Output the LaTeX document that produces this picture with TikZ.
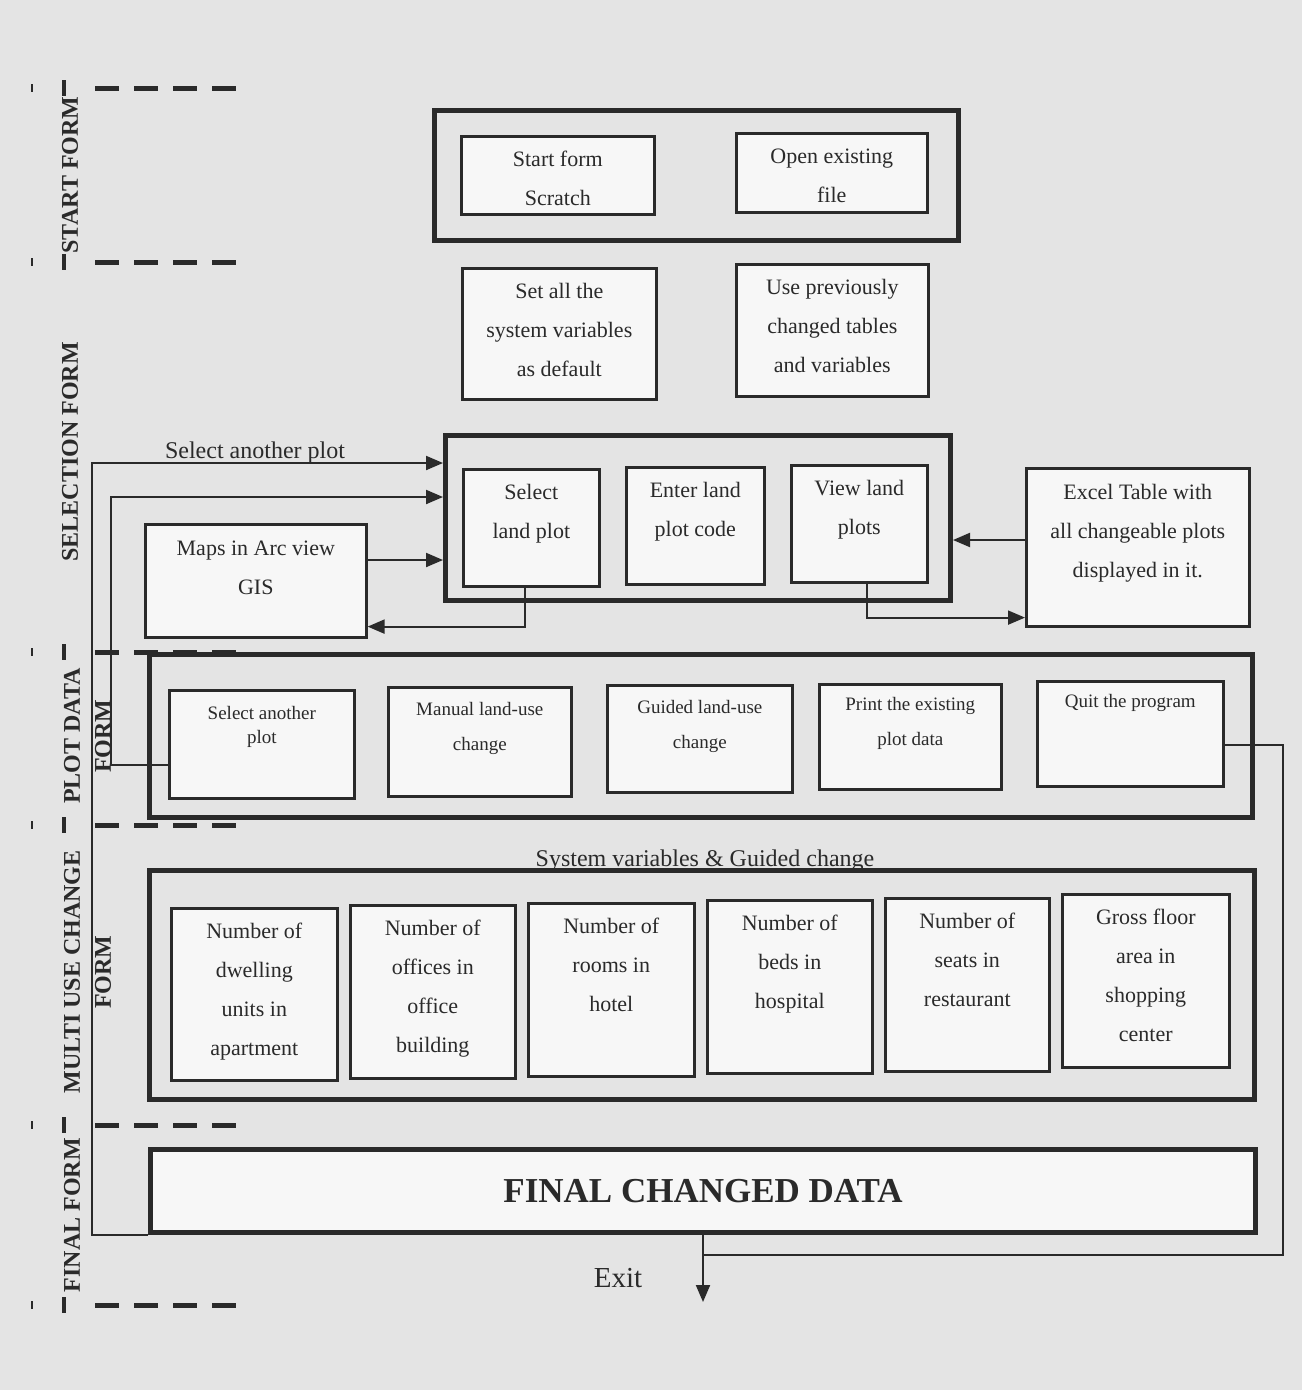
\documentclass[tikz,border=0pt]{standalone}
\usepackage{fontspec}
\setmainfont{Liberation Serif}
\usetikzlibrary{arrows.meta,calc}

\definecolor{ink}{HTML}{2A2A2A}
\definecolor{pagebg}{HTML}{E4E4E4}
\definecolor{paper}{HTML}{F7F7F7}

% multi-line texts are anchored at the baseline of their last line
\tikzset{
  box/.style={draw=ink, line width=2.6pt, fill=paper, anchor=north west, inner sep=0pt},
  frame/.style={draw=ink, line width=5pt, anchor=north west, inner sep=0pt},
  txt/.style={align=center, font=\fontsize{22}{39}\selectfont, text=ink, anchor=base, inner sep=0pt},
  smalltxt/.style={txt, font=\fontsize{19}{35}\selectfont},
  conn/.style={draw=ink, line width=2pt, -{Triangle[length=17pt,width=14pt]}},
  link/.style={draw=ink, line width=2pt},
  sepline/.style={draw=ink, line width=5pt, dash pattern=on 24pt off 15pt},
  sidelabel/.style={rotate=90, font=\bfseries\fontsize{24}{24}\selectfont, text=ink, inner sep=0pt},
}

\begin{document}
\begin{tikzpicture}[x=1pt, y=-1pt]
  % page
  \fill[pagebg] (0,0) rectangle (1302,1390);
  \useasboundingbox (0,0) rectangle (1302,1390);

  % ---------- section separators on the left ----------
  \foreach \yy in {88,262,652,825,1125,1305} {
    \draw[sepline] (95,\yy) -- (242,\yy);
    \draw[ink, line width=4pt] (64,\yy-8) -- (64,\yy+8);
    \draw[ink, line width=1.5pt] (32,\yy-4) -- (32,\yy+4);
  }

  % ---------- section names ----------
  \node[sidelabel] (lstart) at (70,175) {START FORM};
  \node[sidelabel] (lsel) at (70,452) {SELECTION FORM};
  \node[sidelabel] (lplot) at (72,736) {PLOT DATA};
  \node[sidelabel] (lplot2) at (103,736) {FORM};
  \node[sidelabel] (lmulti) at (72,972) {MULTI USE CHANGE};
  \node[sidelabel] (lmulti2) at (103,972) {FORM};
  \node[sidelabel] (lfinal) at (72,1215) {FINAL FORM};

  % ---------- start form ----------
  \node[frame, minimum width=524pt, minimum height=130pt] (startframe) at (432,108) {};
  \node[box, minimum width=193pt, minimum height=78pt] (scratch) at (460,135) {};
  \node[txt] (scratch-t) at ([yshift=-70pt]scratch.north) {Start form\\Scratch};
  \node[box, minimum width=191pt, minimum height=79pt] (openfile) at (735,132) {};
  \node[txt] (openfile-t) at ([yshift=-70pt]openfile.north) {Open existing\\file};

  \node[box, minimum width=194pt, minimum height=131pt] (defaults) at (461,267) {};
  \node[txt] (defaults-t) at ([yshift=-109pt]defaults.north) {Set all the\\system variables\\as default};
  \node[box, minimum width=192pt, minimum height=132pt] (previous) at (735,263) {};
  \node[txt] (previous-t) at ([yshift=-109pt]previous.north) {Use previously\\changed tables\\and variables};

  % ---------- selection form ----------
  \node[frame, minimum width=505pt, minimum height=165pt] (selframe) at (443,433) {};
  \node[box, minimum width=136pt, minimum height=117pt] (selplot) at (462,468) {};
  \node[txt] (selplot-t) at ([yshift=-70pt]selplot.north) {Select\\land plot};
  \node[box, minimum width=138pt, minimum height=117pt] (enterplot) at (625,466) {};
  \node[txt] (enterplot-t) at ([yshift=-70pt]enterplot.north) {Enter land\\plot code};
  \node[box, minimum width=136pt, minimum height=117pt] (viewplot) at (790,464) {};
  \node[txt] (viewplot-t) at ([yshift=-70pt]viewplot.north) {View land\\plots};

  \node[box, minimum width=221pt, minimum height=113pt] (maps) at (144,523) {};
  \node[txt] (maps-t) at ([yshift=-71pt]maps.north) {Maps in Arc view\\GIS};
  \node[box, minimum width=223pt, minimum height=158pt] (excel) at (1025,467) {};
  \node[txt] (excel-t) at ([yshift=-110pt]excel.north) {Excel Table with\\all changeable plots\\displayed in it.};

  \node[txt, font=\fontsize{24}{28}\selectfont] (selanother) at (255,458) {Select another plot};

  % ---------- plot data form ----------
  \node[frame, minimum width=1103pt, minimum height=163pt] (plotframe) at (147,652) {};
  \node[box, minimum width=185pt, minimum height=108pt] (pdsel) at (168,689) {};
  \node[smalltxt, font=\fontsize{19}{24}\selectfont] (pdsel-t) at ([yshift=-54pt]pdsel.north) {Select another\\plot};
  \node[box, minimum width=183pt, minimum height=109pt] (pdman) at (387,686) {};
  \node[smalltxt] (pdman-t) at ([yshift=-64pt]pdman.north) {Manual land-use\\change};
  \node[box, minimum width=185pt, minimum height=107pt] (pdgui) at (606,684) {};
  \node[smalltxt] (pdgui-t) at ([yshift=-64pt]pdgui.north) {Guided land-use\\change};
  \node[box, minimum width=182pt, minimum height=105pt] (pdprn) at (818,683) {};
  \node[smalltxt] (pdprn-t) at ([yshift=-62pt]pdprn.north) {Print the existing\\plot data};
  \node[box, minimum width=186pt, minimum height=105pt] (pdquit) at (1036,680) {};
  \node[smalltxt] (pdquit-t) at ([yshift=-27pt]pdquit.north) {Quit the program};

  % ---------- multi use change form ----------
  \node[txt, font=\fontsize{24}{28}\selectfont] (syslabel) at (705,866) {System variables \& Guided change};
  \node[frame, minimum width=1105pt, minimum height=229pt] (multiframe) at (147,868) {};
  \node[box, minimum width=166pt, minimum height=172pt] (mdwell) at (170,907) {};
  \node[txt] (mdwell-t) at ([yshift=-148pt]mdwell.north) {Number of\\dwelling\\units in\\apartment};
  \node[box, minimum width=165pt, minimum height=173pt] (moffice) at (349,904) {};
  \node[txt] (moffice-t) at ([yshift=-148pt]moffice.north) {Number of\\offices in\\office\\building};
  \node[box, minimum width=166pt, minimum height=173pt] (mhotel) at (527,902) {};
  \node[txt] (mhotel-t) at ([yshift=-109pt]mhotel.north) {Number of\\rooms in\\hotel};
  \node[box, minimum width=165pt, minimum height=173pt] (mhosp) at (706,899) {};
  \node[txt] (mhosp-t) at ([yshift=-109pt]mhosp.north) {Number of\\beds in\\hospital};
  \node[box, minimum width=164pt, minimum height=173pt] (mrest) at (884,897) {};
  \node[txt] (mrest-t) at ([yshift=-109pt]mrest.north) {Number of\\seats in\\restaurant};
  \node[box, minimum width=167pt, minimum height=173pt] (mshop) at (1061,893) {};
  \node[txt] (mshop-t) at ([yshift=-148pt]mshop.north) {Gross floor\\area in\\shopping\\center};

  % ---------- final form ----------
  \node[box, line width=5pt, minimum width=1105pt, minimum height=83pt,
        font=\bfseries\fontsize{35}{40}\selectfont, text=ink] (finalbox) at (148,1147) {FINAL CHANGED DATA};

  % ---------- connectors ----------
  % loop back from the final data to plot selection
  \draw[conn] (finalbox.south west) -- ++(-56,0) |- ([yshift=-30pt]selframe.north west);
  % "Select another plot" button back to plot selection
  \draw[conn] ([yshift=-76pt]pdsel.north west) -- ++(-57,0) |- ([yshift=-64pt]selframe.north west);
  % GIS maps feed the selection
  \draw[conn] ([yshift=-37pt]maps.north east) -- ([yshift=-127pt]selframe.north west);
  \draw[conn] ([xshift=63pt]selplot.south west) |- ([yshift=12pt]maps.south east);
  % Excel table exchange
  \draw[conn] ([xshift=77pt]viewplot.south west) |- ([yshift=10pt]excel.south west);
  \draw[conn] ([yshift=-73pt]excel.north west) -- ([yshift=-107pt]selframe.north east);
  % quit leads to the exit
  \draw[link] ([yshift=-65pt]pdquit.north east) -- ++(58,0) |- ([yshift=-20pt]finalbox.south);
  \coordinate (exitend) at ([yshift=-67pt]finalbox.south);
  \draw[conn] (finalbox.south) -- (exitend);
  \node[txt, font=\fontsize{29}{32}\selectfont] (exit) at (618,1287) {Exit};
\end{tikzpicture}
\end{document}
